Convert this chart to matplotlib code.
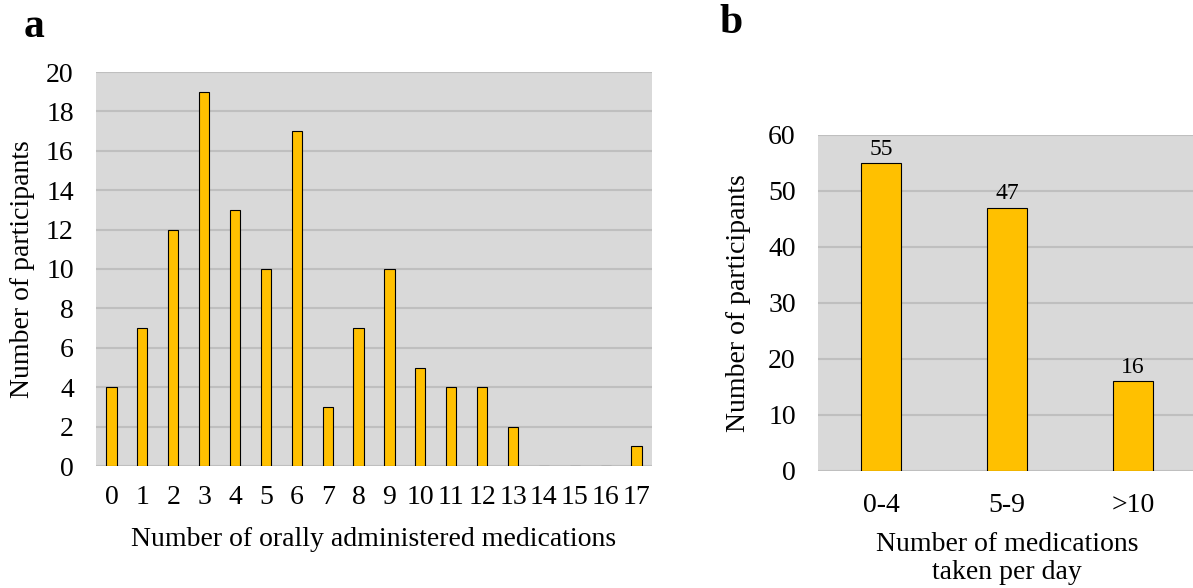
import matplotlib
matplotlib.use("Agg")
import matplotlib.pyplot as plt
import numpy as np

plt.rcParams['font.family'] = ['Liberation Serif', 'DejaVu Serif']

# panel a
n_meds = [str(i) for i in range(18)]
count_a = [4, 7, 12, 19, 13, 10, 17, 3, 7, 10, 5, 4, 4, 2, 0, 0, 0, 1]

# panel b
groups_b = ['0-4', '5-9', '>10']
count_b = [55, 47, 16]

BAR = '#FFC000'
BG = '#D9D9D9'
GRID = '#BFBFBF'
FS = 20

fig = plt.figure(figsize=(11.93, 5.88), dpi=100)
W, H = 1193, 588

def style(ax, xpad):
    ax.set_facecolor(BG)
    for s in ax.spines.values():
        s.set_visible(False)
    ax.tick_params(axis='y', length=0, labelsize=FS, pad=16)
    ax.tick_params(axis='x', length=0, labelsize=FS, pad=xpad)
    ax.yaxis.grid(True, color=GRID, linewidth=1.5)
    ax.set_axisbelow(True)

ax1 = fig.add_axes([96/W, 1-466/H, (652-96)/W, (466-72)/H])
style(ax1, 14)
x = np.arange(len(n_meds))
ax1.bar(x, count_a, width=0.33, color=BAR, edgecolor='black', linewidth=0.8)
ax1.set_xlim(-0.5, len(n_meds)-0.5)
ax1.set_ylim(0, 20)
ax1.set_yticks(range(0, 21, 2))
ax1.set_xticks(x)
ax1.set_xticklabels(n_meds)
ax1.set_xlabel('Number of orally administered medications', fontsize=FS, labelpad=12)
ax1.set_ylabel('Number of participants', fontsize=FS, labelpad=8)

ax2 = fig.add_axes([818/W, 1-471/H, (1196-818)/W, (471-135)/H])
style(ax2, 16)
xb = np.arange(len(groups_b))
ax2.bar(xb, count_b, width=0.31, color=BAR, edgecolor='black', linewidth=0.8)
for xi, v in zip(xb, count_b):
    ax2.text(xi, v + 0.6, str(v), ha='center', va='bottom', fontsize=17)
ax2.set_xlim(-0.5, len(groups_b)-0.5)
ax2.set_ylim(0, 60)
ax2.set_yticks(range(0, 61, 10))
ax2.set_xticks(xb)
ax2.set_xticklabels(groups_b)
ax2.set_xlabel('Number of medications\ntaken per day', fontsize=FS, labelpad=10,
               linespacing=1.15)
ax2.set_ylabel('Number of participants', fontsize=FS, labelpad=12)

fig.text(24/W, 1-27/H, 'a', fontsize=30, fontweight='bold', va='center')
fig.text(719/W, 1-23/H, 'b', fontsize=30, fontweight='bold', va='center')

fig.savefig('out.png', dpi=100)
